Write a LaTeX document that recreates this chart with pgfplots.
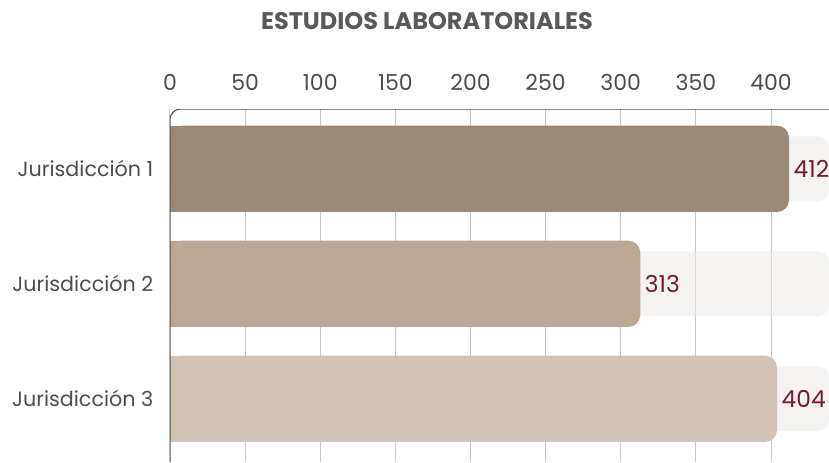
\documentclass[border=0pt]{standalone}
\usepackage{pgfplots}
\pgfplotsset{compat=1.18}
\usepackage{fontspec}
\setmainfont{Poppins}
\definecolor{barA}{HTML}{9A8878}
\definecolor{barB}{HTML}{BCA794}
\definecolor{barC}{HTML}{D1C3B6}
\definecolor{track}{HTML}{EBE7E3}
\definecolor{valred}{HTML}{7A1733}
\definecolor{txtgray}{HTML}{4D4D4D}
\definecolor{titlegray}{HTML}{58595B}
\begin{document}
\begin{tikzpicture}
\useasboundingbox (0,0) rectangle (621.75pt,346.5pt);
\node[anchor=base, font=\fontsize{18}{20}\selectfont\bfseries, text=titlegray] at (320.25pt,324.75pt) {ESTUDIOS LABORATORIALES};
\begin{axis}[
  at={(127.5pt,0pt)}, anchor=south west,
  scale only axis, width=494.25pt, height=264.75pt,
  xmin=0, xmax=438.6,
  ymin=-0.52, ymax=2.55, y dir=reverse,
  axis x line*=top, axis y line*=left,
  axis line style={draw=none},
  xtick={0,50,...,400},
  ytick={0,1,2},
  yticklabels={Jurisdicción 1,Jurisdicción 2,Jurisdicción 3},
  major tick length=0pt,
  xmajorgrids, major grid style={color=black!22, line width=0.75pt},
  xticklabel style={font=\fontsize{16.5}{18}\selectfont, text=txtgray, yshift=10pt},
  yticklabel style={font=\fontsize{15.5}{18}\selectfont, text=txtgray, xshift=-9pt},
  /pgf/number format/assume math mode=true,
  clip=true,
  vlabel/.style={nodes near coords, nodes near coords style={text=valred, font=\fontsize{17.5}{20}\selectfont, anchor=west, xshift=0pt}},
]
% background tracks
\addplot[xbar, bar shift=0pt, bar width=0.565, fill=track, fill opacity=0.5, draw=none, rounded corners=8pt]
  coordinates {(438.6,0) (438.6,1) (438.6,2)};
% bars (rounded right ends)
\addplot[xbar, bar shift=0pt, bar width=0.75, fill=barA, draw=none, rounded corners=9pt, vlabel]
  coordinates {(412,0)};
\addplot[xbar, bar shift=0pt, bar width=0.75, fill=barB, draw=none, rounded corners=9pt, vlabel]
  coordinates {(313,1)};
\addplot[xbar, bar shift=0pt, bar width=0.75, fill=barC, draw=none, rounded corners=9pt, vlabel]
  coordinates {(404,2)};
% square left halves
\addplot[xbar, bar shift=0pt, bar width=0.75, fill=barA, draw=none, x filter/.expression={x/2}]
  coordinates {(412,0)};
\addplot[xbar, bar shift=0pt, bar width=0.75, fill=barB, draw=none, x filter/.expression={x/2}]
  coordinates {(313,1)};
\addplot[xbar, bar shift=0pt, bar width=0.75, fill=barC, draw=none, x filter/.expression={x/2}]
  coordinates {(404,2)};
\draw[rounded corners=8pt, color=txtgray, line width=0.8pt] (rel axis cs:0,0) -- (rel axis cs:0,1) -- (rel axis cs:1,1);
\end{axis}
\end{tikzpicture}
\end{document}
